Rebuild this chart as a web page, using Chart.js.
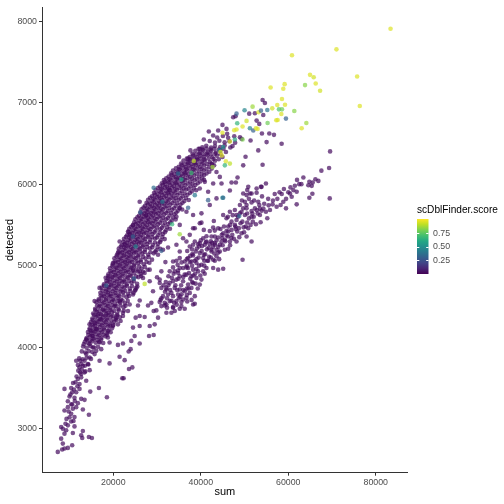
<!DOCTYPE html>
<html lang="en">
<head>
  <meta charset="UTF-8">
  <title>scDblFinder score: sum vs detected</title>
  <script src="https://cdn.jsdelivr.net/npm/chart.js"></script>
  <style>
    html, body { margin: 0; padding: 0; background: #ffffff; }
    #wrap { width: 504px; height: 504px; position: relative; }
  </style>
</head>
<body>
  <div id="wrap">
    <canvas id="scatter" width="504" height="504"></canvas>
  </div>

  <script>
    // axis setup
    const xRange = [3700, 87300];
    const yRange = [2460, 8170];
    const xTicks = [20000, 40000, 60000, 80000];
    const yTicks = [3000, 4000, 5000, 6000, 7000, 8000];
    const scoreTicks = [0.25, 0.5, 0.75];
    const scoreRange = [0, 1];
    const baseScore = 0.03;   // the dark purple cells

    // viridis stops used by the colour bar
    const viridis = ['#440154', '#482475', '#414487', '#355f8d', '#2a788e',
                     '#21918c', '#22a884', '#44bf70', '#7ad151', '#bddf26', '#fde725'];

    // [sum, detected] - thin tail at the low end
    const tailPoints = [
      [7310,2715],[8310,2744],[8840,2756],[9610,2764],[10600,2797],[8460,2817],[8080,2878],[8840,2939],
      [9230,2980],[8460,3000],[8080,3020],[9610,3041],[9070,3061],[11130,3028],[10750,2947],[12660,2919],
      [13040,2972],[14420,2898],[15110,2886],[12890,2886],[10370,3089],[11130,3142],[10370,3183],[8840,3224],
      [9610,3264],[10750,3244],[11520,3264],[13040,3236],[14420,3171],[10600,3297],[11900,3313],[9610,3337],
      [9990,3394],[11130,3378],[12660,3366],[13430,3354],[11520,3447],[10600,3447],[12280,3488],[10370,3500],
      [11360,3569],[8840,3488],[14730,3455],[16710,3500],[18540,3386],[12280,3549],[11900,3610],[12660,3630],
      [13810,3589],[12660,3671],[13430,3691],[12280,3752],[13040,3772],[11520,3833],[12430,3833],[13430,3833],
      [14190,3793],[14570,3874],[13810,3915],[15720,3915],[16860,3833],[19150,3801],[21440,3882],[22590,3841],
      [22050,3618],[22360,3618],[23580,3732],[24350,3752],[23510,3947],[23960,3976],[26030,4045],[21060,4028],
      [22210,4045],[24120,4077],[24880,4138],[28170,4138],[29230,4150],[28320,4260],[29460,4280],[26030,4260],
      [24500,4240],[25110,4362],[26030,4382],[27170,4370],[30230,4362],[32140,4423],[33280,4423],[22210,4423],
      [18770,4118],[19150,4057],[16860,4057],[15330,3996],[17240,3976],[18750,4199],[19920,4260],[21060,4280],
      [21670,4321],[20680,4362],[14570,4037],[13270,4037],[13810,4097],[15330,4138],[16100,4219],[14950,4199],
      [14570,4280],[15720,4301],[17240,4341],[16480,4402],[18390,4402],
      [9300,3120],[10000,3140],[10900,3095],[9800,3210],[10400,3300],[11200,3340],[10200,3420],[11000,3480],
      [11800,3520],[10800,3560],[11600,3640],[12400,3690],
      [12000,3712],[12800,3725],[13600,3703],[14600,3718],[11900,3780],[12700,3795],[13500,3772],[14300,3788],
      [12200,3862],[13000,3851],[13900,3870],[14900,3856],[12800,3948],[13600,3935],[14400,3952],[15200,3940],
      [16100,3955],[13100,4008],[13900,3992],[14800,4011],[15600,3996],[16500,4004]
    ];

    // [sum, detected] - main dense band
    const bandPoints = [
      [13500,4066],[14300,4049],[15100,4071],[16000,4055],[16800,4068],[17700,4052],
      [13900,4113],[14700,4131],[15500,4109],[16400,4126],[17300,4115],[18200,4133],
      [14200,4186],[15000,4172],[15800,4191],[16700,4175],[17500,4188],[18500,4170],[19400,4184],
      [14600,4233],[15400,4251],[16200,4229],[17000,4248],[17900,4236],[18800,4254],[19700,4231],
      [14900,4309],[15800,4291],[16600,4312],[17500,4293],[18300,4307],[19200,4289],[20200,4311],
      [15200,4352],[16000,4371],[16900,4349],[17700,4368],[18600,4355],[19500,4374],[20500,4350],[21500,4366],
      [15400,4412],[16250,4433],[17150,4405],[17950,4441],[18850,4418],[19700,4429],[20900,4408],
      [15850,4471],[16700,4492],[17650,4466],[18450,4487],[19350,4475],[20250,4498],[21150,4469],[22350,4490],
      [16150,4551],[17050,4528],[17850,4547],[18750,4533],[19650,4556],[20450,4526],[21550,4549],[22650,4537],
      [16650,4588],[17350,4611],[18350,4594],[19150,4617],[19950,4590],[20950,4606],[21750,4585],[23050,4612],
      [17050,4668],[17850,4648],[18750,4671],[19450,4652],[20450,4665],[21250,4645],[22250,4673],[23350,4654],[24650,4667],
      [17350,4731],[18350,4712],[19050,4735],[20050,4716],[20750,4728],[21750,4709],[22550,4733],[23750,4718],[25050,4707],
      [17850,4772],[18650,4793],[19550,4769],[20250,4788],[21250,4775],[22050,4796],[23050,4771],[24150,4790],[25450,4778],
      [18250,4852],[19150,4831],[19850,4856],[20850,4834],[21550,4849],[22550,4828],[23350,4853],[24550,4836],[25750,4859],
      [18850,4893],[19550,4912],[20450,4889],[21150,4907],[22050,4895],[22850,4914],[23850,4888],[24750,4909],[26250,4897],[27150,4911],
      [19250,4968],[20150,4951],[20850,4973],[21750,4955],[22450,4967],[23350,4949],[24150,4971],[25250,4953],[26450,4966],[27850,4950],
      [19850,5013],[20550,5034],[21450,5011],[22150,5029],[23050,5016],[23750,5037],[24750,5012],[25650,5031],[26950,5018],[28250,5035],
      [20250,5091],[21150,5072],[21850,5088],[22750,5069],[23450,5093],[24350,5075],[25150,5090],[26250,5071],[27350,5087],[28850,5074],
      [20850,5133],[21550,5152],[22450,5129],[23150,5148],[24050,5136],[24750,5155],[25750,5131],[26650,5149],[27950,5134],[29250,5151],
      [21250,5209],[22150,5191],[22850,5212],[23750,5193],[24450,5207],[25350,5188],[26150,5211],[27250,5196],[28350,5213],[29850,5190],[30750,5206],
      [21950,5252],[22650,5271],[23550,5249],[24250,5268],[25150,5255],[25850,5274],[26850,5250],[27750,5266],[29050,5253],[30250,5270],
      [22450,5329],[23350,5311],[24050,5333],[24950,5314],[25650,5327],[26550,5309],[27350,5331],[28450,5316],[29550,5334],[30850,5312],[31750,5326],
      [23150,5372],[23850,5391],[24750,5369],[25450,5388],[26350,5375],[27050,5394],[28050,5370],[28950,5387],[30250,5373],[31350,5390],
      [23650,5451],[24550,5432],[25250,5448],[26150,5429],[26850,5453],[27750,5435],[28550,5450],[29650,5431],[30750,5447],[32050,5434],[32950,5452],
      [24450,5493],[25150,5512],[26050,5489],[26750,5508],[27650,5495],[28350,5514],[29350,5490],[30250,5507],[31450,5493],[32550,5511],
      [25050,5568],[25950,5551],[26650,5572],[27550,5553],[28250,5567],[29150,5549],[29950,5571],[31050,5555],[32050,5569],[33350,5552],[34250,5566],
      [25850,5613],[26550,5632],[27450,5609],[28150,5628],[29050,5615],[29750,5634],[30750,5611],[31650,5629],[32850,5614],[33950,5631],
      [26450,5691],[27350,5672],[28050,5688],[28950,5669],[29650,5693],[30550,5675],[31350,5690],[32450,5671],[33450,5687],[34750,5673],[35750,5689],
      [27250,5733],[27950,5752],[28850,5729],[29550,5748],[30450,5736],[31150,5755],[32150,5731],[33050,5749],[34250,5734],[35350,5751],
      [27950,5809],[28850,5791],[29550,5812],[30450,5793],[31150,5807],[32050,5788],[32850,5811],[33950,5795],[34950,5810],[36250,5792],[37250,5806],
      [28850,5852],[29550,5871],[30450,5849],[31150,5868],[32050,5855],[32750,5874],[33750,5850],[34650,5866],[35850,5853],[36950,5870],
      [29650,5929],[30550,5911],[31250,5933],[32150,5914],[32850,5927],[33750,5909],[34550,5931],[35650,5916],[36650,5934],[37950,5912],[38950,5926],
      [30650,5972],[31350,5991],[32250,5969],[32950,5988],[33850,5975],[34550,5994],[35550,5970],[36450,5987],[37650,5973],[38750,5990],
      [31550,6051],[32450,6032],[33150,6048],[34050,6029],[34750,6053],[35650,6035],[36450,6050],[37550,6031],[38550,6047],[39850,6034],[40750,6052],
      [32650,6093],[33350,6112],[34250,6089],[34950,6108],[35850,6095],[36550,6114],[37550,6090],[38450,6107],[39650,6093],[40750,6111],
      [33650,6168],[34550,6151],[35250,6172],[36150,6153],[36850,6167],[37750,6149],[38550,6171],[39650,6155],[40650,6169],[41950,6152],
      [34950,6213],[35650,6232],[36550,6209],[37250,6228],[38150,6215],[38850,6234],[39850,6211],[40750,6229],[41950,6214],[43050,6231],
      [36050,6291],[36950,6272],[37650,6288],[38550,6269],[39250,6293],[40150,6275],[40950,6290],[42050,6271],[43250,6287],
      [37450,6333],[38250,6352],[39150,6329],[39850,6348],[40750,6336],[41550,6355],[42650,6331],[43650,6349],[44950,6334],
      [38750,6409],[39750,6391],[40550,6412],[41550,6393],[42350,6407],[43450,6388],[44450,6411],[45750,6395],
      [40350,6452],[41250,6471],[42350,6449],[43250,6468],[44450,6455],[45450,6474],[46750,6450],
      [42050,6529],[43250,6511],[44250,6533],[45450,6514],[46550,6527],[47850,6509],
      [43750,6572],[45050,6591],[46250,6569],[47650,6588],[48950,6575]
    ];

    // [sum, detected] - more cells packed in between the band rows above
    const bandFill = [
      [13900,4092],[14700,4083],[15500,4097],[16400,4088],[17200,4095],
      [14300,4152],[15100,4143],[15900,4158],[16800,4147],[17700,4155],[18600,4149],
      [14600,4214],[15400,4203],[16200,4218],[17100,4207],[17900,4216],[18900,4205],
      [15000,4275],[15800,4264],[16600,4279],[17400,4268],[18300,4277],[19200,4266],[20000,4273],
      [15300,4334],[16200,4325],[17000,4339],[17900,4328],[18700,4336],[19600,4326],[20700,4333],
      [15600,4394],[16400,4385],[17300,4398],[18100,4388],[19000,4396],[19900,4384],[20900,4392],
      [15900,4453],[16800,4444],[17600,4458],[18400,4447],[19300,4455],[20200,4445],[21300,4452],[22400,4446],
      [16300,4512],[17100,4503],[18000,4517],[18800,4506],[19700,4514],[20600,4504],[21600,4511],[22800,4508],
      [16700,4572],[17500,4563],[18300,4578],[19100,4566],[20100,4575],[21000,4564],[22100,4573],[23300,4568],
      [17100,4633],[17900,4624],[18700,4638],[19500,4627],[20400,4636],[21300,4625],[22300,4634],[23600,4629],
      [17500,4692],[18300,4684],[19100,4697],[19900,4686],[20800,4695],[21700,4683],[22700,4693],[23900,4688],[25000,4695],
      [17900,4753],[18700,4744],[19500,4757],[20400,4746],[21200,4755],[22100,4744],[23100,4754],[24300,4748],[25500,4745],
      [18400,4812],[19200,4803],[20000,4817],[20800,4806],[21700,4815],[22600,4804],[23600,4813],[24700,4808],
      [18900,4873],[19700,4864],[20500,4878],[21300,4866],[22200,4875],[23100,4864],[24100,4874],[25200,4868],[26400,4872],
      [19300,4932],[20100,4923],[20900,4937],[21700,4926],[22600,4935],[23500,4924],[24400,4934],[25600,4928],[26800,4925],
      [19800,4993],[20600,4984],[21400,4998],[22200,4986],[23000,4995],[23900,4984],[24800,4994],[25900,4988],[27200,4985],
      [20300,5052],[21100,5043],[21900,5057],[22700,5046],[23500,5055],[24300,5044],[25300,5054],[26300,5048],[27600,5045],
      [20700,5113],[21500,5104],[22300,5118],[23100,5106],[23900,5115],[24800,5104],[25700,5114],[26800,5108],[28100,5105],
      [21200,5172],[22000,5163],[22800,5177],[23600,5166],[24400,5175],[25200,5164],[26200,5174],[27200,5168],[28500,5165],[29600,5172],
      [21700,5233],[22500,5224],[23300,5238],[24100,5226],[24900,5235],[25800,5224],[26700,5234],[27700,5228],[28900,5225],[30100,5230],
      [22300,5292],[23100,5283],[23900,5297],[24700,5286],[25500,5295],[26300,5284],[27300,5294],[28300,5288],[29500,5285],[30700,5291],
      [22900,5353],[23700,5344],[24500,5358],[25300,5346],[26100,5355],[26900,5344],[27900,5354],[28900,5348],[30000,5345],[31200,5352],
      [23500,5412],[24300,5403],[25100,5417],[25900,5406],[26700,5415],[27500,5404],[28400,5414],[29400,5408],[30600,5405],[31800,5411],
      [24100,5473],[24900,5464],[25700,5478],[26500,5466],[27300,5475],[28100,5464],[29000,5474],[30000,5468],[31100,5465],[32300,5471],
      [24800,5532],[25600,5523],[26400,5537],[27200,5526],[28000,5535],[28800,5524],[29700,5534],[30700,5528],[31800,5525],[33000,5531],
      [25500,5593],[26300,5584],[27100,5598],[27900,5586],[28700,5595],[29500,5584],[30400,5594],[31400,5588],[32500,5585],[33700,5591],
      [26200,5652],[27000,5643],[27800,5657],[28600,5646],[29400,5655],[30200,5644],[31100,5654],[32100,5648],[33200,5645],[34400,5651],
      [26900,5713],[27700,5704],[28500,5718],[29300,5706],[30100,5715],[30900,5704],[31800,5714],[32800,5708],[33900,5705],[35100,5711],
      [27600,5772],[28400,5763],[29200,5777],[30000,5766],[30800,5775],[31600,5764],[32500,5774],[33500,5768],[34600,5765],[35800,5771],
      [28400,5833],[29200,5824],[30000,5838],[30800,5826],[31600,5835],[32400,5824],[33300,5834],[34300,5828],[35400,5825],[36600,5831],
      [29300,5892],[30100,5883],[30900,5897],[31700,5886],[32500,5895],[33300,5884],[34200,5894],[35200,5888],[36300,5885],[37500,5891],
      [30200,5953],[31000,5944],[31800,5958],[32600,5946],[33400,5955],[34200,5944],[35100,5954],[36100,5948],[37200,5945],[38400,5951],
      [31100,6012],[31900,6003],[32700,6017],[33500,6006],[34300,6015],[35100,6004],[36000,6014],[37000,6008],[38100,6005],[39300,6011],
      [32100,6073],[32900,6064],[33700,6078],[34500,6066],[35300,6075],[36100,6064],[37000,6074],[38000,6068],[39100,6065],[40300,6071],
      [33200,6132],[34000,6123],[34800,6137],[35600,6126],[36400,6135],[37200,6124],[38100,6134],[39100,6128],[40200,6125],[41300,6131],
      [34300,6193],[35100,6184],[35900,6198],[36700,6186],[37500,6195],[38300,6184],[39200,6194],[40200,6188],[41300,6185],[42500,6191],
      [35500,6252],[36300,6243],[37100,6257],[37900,6246],[38700,6255],[39500,6244],[40400,6254],[41400,6248],[42600,6245],
      [36800,6313],[37600,6304],[38400,6318],[39200,6306],[40000,6315],[40800,6304],[41800,6314],[42900,6308],[44100,6305],
      [38100,6372],[38900,6363],[39700,6377],[40600,6366],[41400,6375],[42300,6364],[43300,6374],[44500,6368],
      [39500,6433],[40400,6424],[41300,6438],[42200,6426],[43100,6435],[44100,6424],[45200,6434]
    ];

    // [sum, detected] - lower second branch
    const lowerBranch = [
      [69330,6199],[67570,6166],[69480,5825],[66880,6040],[65580,6020],[64820,6028],[65360,5979],[64590,5987],
      [65510,5882],[63450,6081],[62000,6052],[61160,5927],[61920,5906],[60390,5886],[60780,5845],[61920,5752],
      [64820,5833],[58860,5784],[59480,5703],[58250,5744],[57340,5723],[56420,5752],[55810,5683],[54890,5662],
      [55200,5581],[53520,5622],[53670,5532],[52600,5508],[51380,5500],[51610,5601],[53140,5784],[54890,6008],
      [53900,5967],[52760,5894],[51230,5886],[50460,5866],[49700,5886],[51610,5776],[50460,5744],[51610,5670],
      [52370,5703],[53370,5744],[53900,5674],[49700,5703],[48940,5642],[50080,5622],[50850,5459],[49090,5520],
      [48170,5561],[47790,5500],[47030,5439],[48330,5419],[49320,5398],[50460,5357],[51610,5297],[49550,5073],
      [45880,5426],[46260,5357],[45120,5398],[46650,5297],[47560,5329],[45500,5317],[48170,5297],[44740,5297],
      [43970,5345],[44350,5256],[43210,5357],[42450,5357],[43210,5276],[42060,5264],[41300,5297],[40920,5256],
      [42450,5195],[43590,5195],[44350,5174],[45500,5195],[46260,5207],[43590,5114],[42830,5073],[45120,4963],
      [43970,4951],[42830,4971],[41680,5061],[40540,5093],[39770,5154],[38850,5174],[39620,5236],[38240,5256],
      [37480,5236],[38240,5126],[37100,5093],[37860,5052],[39010,5032],[40150,5012],[41300,4971],[40540,4930],
      [39390,4930],[38240,4951],[37100,4971],[35950,4971],[36720,4890],[37860,4870],[39010,4849],[40150,4829],
      [39770,4768],[38240,4788],[37100,4768],[35950,4809],[35190,4870],[34430,4829],[33660,4809],[34040,4727],
      [35190,4707],[36340,4687],[37480,4666],[34810,4646],[33660,4626],[32520,4646],[32140,4707],[32900,4565],
      [34430,4565],[35950,4585],[35570,4504],[33660,4483],[32140,4524],[38240,4524],[36720,4605],[38630,4626],
      [37860,4727],[30610,4829],[30990,4727],[31370,4626],[31750,4544],[35190,4971],[34040,4930],[33660,5052],
      [32900,4930],[36340,5052],[35190,5093],[39770,5276],[38630,5297],[40540,5337],[42060,5426],[42830,5467],
      [43970,5459],[46260,5479],[47030,5540],[45880,5581],[45120,5622],[48170,5622],[47790,5683],[48940,5744],
      [50080,5784],[50620,5927],[51610,5886],[52760,5947],[50850,5967],[53750,5967],[46650,5662],[50460,5703],
      [31000,4600],[31800,4680],[32600,4760],[33300,4570],[34200,4760],[34900,4840],[35600,4650],[36300,4890],
      [36900,4560],[37600,4840],[38300,4880],[39000,4960],[39500,5100],[40200,5180],[41000,5140],[41800,5220],
      [42600,5280],[43100,5150],[44000,5230],[44800,5380],[45600,5300],[46300,5420],[47200,5380],[47900,5480],
      [48700,5460],[49500,5540],[50300,5480],[51000,5580],[51800,5640],[52800,5680],[53500,5700],[54500,5760],
      [55500,5740],[56500,5800],[57500,5820],[58500,5880],[59500,5820],[60500,5960],[61500,5980],[62500,6000],
      [35000,4600],[36000,4700],[37200,4720],[38800,4780],[40800,5000],[41500,5060],[42300,5100],[39000,5080],
      [38000,5000],[36800,5000],[33000,4700],[34500,4520],[32000,4800],[33800,4900],[69560,6402],
      [30800,4580],[32300,4600],[33900,4545],[35300,4620],[36800,4640],[37900,4580],
      [31500,4760],[32900,4790],[34600,4700],[35500,4760],[36800,4720],[38000,4800],[39300,4720],
      [32600,4870],[33400,4850],[34800,4940],[36000,4860],[37300,4910],[38700,4900],[39900,4880],[40900,4900],
      [34700,5010],[35600,5040],[36800,5080],[37600,5120],[38600,5060],[39600,5000],[40800,5060],[41900,5110],
      [43200,5060],[44200,5080],[36900,5180],[38000,5200],[39100,5210],[40300,5240],[41400,5200],[42800,5230],
      [44000,5160],[45000,5250],[46700,5250],[40000,5310],[41300,5360],[42300,5300],[43600,5310],[44900,5340],
      [45900,5370],[47000,5340],[48800,5350],[49900,5410],[43200,5430],[44500,5450],[45300,5480],[46700,5500],
      [48000,5450],[49800,5470],[50600,5530],[51900,5540],[46200,5600],[47300,5620],[48500,5600],[49300,5660],
      [50600,5640],[52100,5600],[53000,5640],[54300,5700],[49400,5800],[51000,5820],[52200,5800],[54000,5850],
      [55400,5820],[56900,5880],[58000,5900],[59000,5940],[60000,5900],[63000,6000],[66200,6060]
    ];

    // [sum, detected] - loose cells between and around the two groups
    const loosePoints = [
      [29840,4451],[33660,4492],[35190,4472],[36330,4472],[38620,4533],[35570,4553],[31750,4512],[30600,4553],
      [27940,4512],[25650,4512],[26030,4573],
      [31910,5044],[34430,5061],[37480,5044],[39390,5264],[41150,5288],[43210,5256],[42450,5174],[40690,5134],
      [38090,5142],[36720,4979],[33660,4979],[34810,4910],[30990,4930],[30000,4857],[28320,4951],[28320,4808],
      [30610,4788],[29080,4687],[28700,4544],[29230,4443],[30990,4504],[32290,4483],[34050,4443],[33280,4666],
      [32140,4727],[30230,5134],[31370,5195],[32520,5223],[34430,5256],[36720,5296],[35190,5174],[26030,4930],
      [26790,4849],[25260,4727],[24500,4646],[23740,4524],[22210,4382],[23350,4443],[21440,4565],[24500,4951],
      [35950,5337],[37480,5378],[38630,5459],[39770,5520],[40690,5439],[35190,5500],[34430,5601],[38240,5459],
      [40150,5528],[42980,5548],[40150,5642],[38240,5622],[36720,5662],[35190,5703],[42060,5744],[43590,5825],
      [41680,5906],[39770,5947],[40920,6028],[42830,6008],[49700,6231],[48400,6081],[48020,6020],[47030,6020],
      [44740,6008],[44350,6089],[43590,6150],[42450,6252],[46650,5922],
      [31760,6028],[32900,5926],[35040,6333],[37100,6313],[37630,6414],[39770,6435],[40690,6548],[41840,6646],
      [42830,6597],[43970,6658],[44960,6727],[45880,6678],[47410,6821],[26030,5784],[27550,5621],[24500,5499],
      [23360,5418],[21450,5296],[23740,5378],[22590,5256],[21060,5154],[19920,5032],[18770,4849],[16860,4727],
      [15720,4565],
      [54130,7032],[54660,6995],[47940,6833],[51070,6865],[52370,6869],[54280,6849],[52760,6780],[53370,6739],
      [53980,6621],[55660,6621],[56730,6605],[58480,6495],[55040,6516],[53140,6414],[50230,6337],[54130,6239],
      [46030,6617],[49320,6556],[51380,6536],[47260,6467]
    ];

    // [sum, detected, score] - cells with a visible doublet score
    const scoredPoints = [
      [83380,7906,0.95],[71010,7654,0.95],[60850,7581,0.95],[64970,7341,0.95],[65810,7312,0.93],[66270,7235,0.95],
      [67270,7146,0.93],[75740,7321,0.95],[76350,6959,0.95],[63830,7215,0.82],[59170,7227,0.95],[58860,7170,0.95],
      [55960,7186,0.95],[58560,7044,0.95],[59250,6975,0.95],[57490,6971,0.95],[56340,6930,0.93],[57870,6918,0.72],
      [58560,6918,0.78],[61380,6898,0.82],[58410,6861,0.95],[57570,6788,0.95],[57260,6784,0.95],[59470,6804,0.30],
      [55270,6751,0.78],[64130,6751,0.85],[63060,6686,0.95],[55200,6910,0.38],[51840,6951,0.85],[53210,6882,0.95],
      [50010,6906,0.45],[48170,6865,0.30],[53750,6902,0.30],[50460,6776,0.92],[49550,6707,0.95],[48170,6670,0.95],
      [47640,6662,0.95],[44960,6630,0.95],[51230,6686,0.45],[52000,6658,0.30],[52980,6678,0.95],[52600,6686,0.95],
      [46650,6524,0.95],[47790,6548,0.62],[49550,6548,0.80],[45120,6455,0.50],[44350,6414,0.45],[44510,6394,0.95],
      [44810,6353,0.95],[45730,6280,0.95],[45500,6231,0.65],[46650,6252,0.90],[48330,6748,0.65],[44960,5833,0.45],
      [29230,5955,0.35],[35570,6057,0.60],[37860,6138,0.68],[38400,6285,0.90],[42680,6211,0.85],
      [33430,5508,0.65],[35190,5386,0.85],[38630,5865,0.40],[31220,5784,0.40],[26180,5654,0.30],[24500,5357,0.30],
      [25110,5235,0.45],[30990,5182,0.30],[27170,4776,0.90],[24730,4841,0.30],[18390,4756,0.30],[37100,5711,0.30],
      [41680,5804,0.30],[34810,6130,0.35],[45120,5833,0.35],[48780,5609,0.35]
    ];

    function hexToRgb(h) {
      return [parseInt(h.slice(1, 3), 16), parseInt(h.slice(3, 5), 16), parseInt(h.slice(5, 7), 16)];
    }

    function viridisColor(t, alpha) {
      t = Math.max(0, Math.min(1, t));
      let pos = t * (viridis.length - 1);
      let i = Math.min(Math.floor(pos), viridis.length - 2);
      let f = pos - i;
      let a = hexToRgb(viridis[i]), b = hexToRgb(viridis[i + 1]);
      let c = a.map((v, k) => Math.round(v + (b[k] - v) * f));
      return alpha === undefined ? `rgb(${c.join(',')})` : `rgba(${c.join(',')},${alpha})`;
    }

    const pointAlpha = 0.7;
    const pointSize = 2.3;
    const fontFamily = '"Liberation Sans", Arial, Helvetica, sans-serif';

    const lowData = [].concat(tailPoints, bandPoints, bandFill, lowerBranch, loosePoints)
      .map(p => ({ x: p[0], y: p[1], s: baseScore }));
    const scoredData = scoredPoints.map(p => ({ x: p[0], y: p[1], s: p[2] }));

    // colour bar drawn in the right margin, like the ggplot legend
    const colourBar = {
      id: 'colourBar',
      afterDraw(chart) {
        const ctx = chart.ctx;
        const x0 = 417, w = 11.5, yTop = 219, yBot = 274;
        const toY = v => yBot - (v - scoreRange[0]) / (scoreRange[1] - scoreRange[0]) * (yBot - yTop);
        ctx.save();
        const grad = ctx.createLinearGradient(0, yBot, 0, yTop);
        viridis.forEach((c, i) => grad.addColorStop(i / (viridis.length - 1), c));
        ctx.fillStyle = grad;
        ctx.fillRect(x0, yTop, w, yBot - yTop);

        ctx.strokeStyle = '#ffffff';
        ctx.lineWidth = 1;
        ctx.font = `8.8px ${fontFamily}`;
        ctx.fillStyle = '#4d4d4d';
        ctx.textAlign = 'left';
        ctx.textBaseline = 'middle';
        scoreTicks.forEach(v => {
          let y = Math.round(toY(v)) + 0.5;
          ctx.beginPath();
          ctx.moveTo(x0, y); ctx.lineTo(x0 + 2.3, y);
          ctx.moveTo(x0 + w - 2.3, y); ctx.lineTo(x0 + w, y);
          ctx.stroke();
          ctx.fillText(v.toFixed(2), x0 + w + 4.5, toY(v) + 0.5);
        });

        // legend title, sized to the width it has in the picture
        let size = 11;
        ctx.font = `${size}px ${fontFamily}`;
        const wide = ctx.measureText('scDblFinder.score').width;
        if (wide > 81) {
          size = size * 81 / wide;
          ctx.font = `${size}px ${fontFamily}`;
        }
        ctx.fillStyle = '#000000';
        ctx.textBaseline = 'alphabetic';
        ctx.fillText('scDblFinder.score', x0, 213);
        ctx.restore();
      }
    };

    new Chart(document.getElementById('scatter').getContext('2d'), {
      type: 'scatter',
      data: {
        datasets: [
          {
            label: 'scored',
            data: scoredData,
            backgroundColor: ctx => viridisColor(ctx.raw ? ctx.raw.s : baseScore, pointAlpha),
            borderWidth: 0,
            pointRadius: pointSize,
            pointHoverRadius: pointSize
          },
          {
            label: 'low',
            data: lowData,
            backgroundColor: viridisColor(baseScore, pointAlpha),
            borderWidth: 0,
            pointRadius: pointSize,
            pointHoverRadius: pointSize
          }
        ]
      },
      options: {
        responsive: false,
        animation: false,
        devicePixelRatio: 1,
        layout: { padding: { top: 4.7, right: 96.3, bottom: 0, left: 0 } },
        plugins: {
          legend: { display: false },
          tooltip: { enabled: false }
        },
        scales: {
          x: {
            type: 'linear',
            min: xRange[0],
            max: xRange[1],
            afterBuildTicks: s => { s.ticks = xTicks.map(v => ({ value: v })); },
            afterFit: s => { s.height = 31.3; },
            grid: { display: true, drawOnChartArea: false, drawTicks: true, tickLength: 3, color: '#333333' },
            border: { display: true, color: '#333333', width: 1 },
            ticks: {
              color: '#4d4d4d',
              padding: 2,
              maxRotation: 0,
              font: { size: 8.8, family: fontFamily },
              callback: v => String(v)
            },
            title: {
              display: true,
              text: 'sum',
              color: '#000000',
              font: { size: 11, family: fontFamily },
              padding: { top: 0, bottom: 5 }
            }
          },
          y: {
            type: 'linear',
            min: yRange[0],
            max: yRange[1],
            afterBuildTicks: s => { s.ticks = yTicks.map(v => ({ value: v })); },
            afterFit: s => { s.width = 42; },
            grid: { display: true, drawOnChartArea: false, drawTicks: true, tickLength: 3, color: '#333333' },
            border: { display: true, color: '#333333', width: 1 },
            ticks: {
              color: '#4d4d4d',
              padding: 2,
              font: { size: 8.8, family: fontFamily },
              callback: v => String(v)
            },
            title: {
              display: true,
              text: 'detected',
              color: '#000000',
              font: { size: 11, family: fontFamily },
              padding: { top: 3, bottom: 0 }
            }
          }
        }
      },
      plugins: [colourBar]
    });
  </script>
</body>
</html>
